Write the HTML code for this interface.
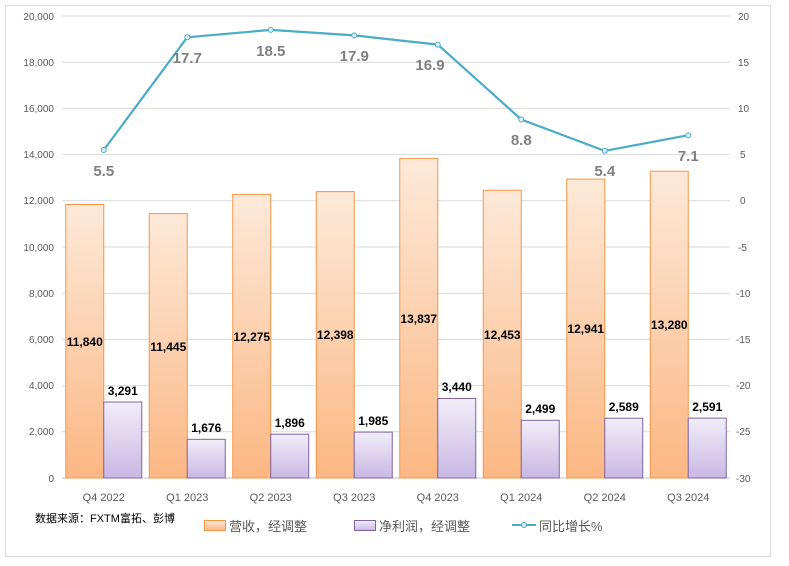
<!DOCTYPE html><html><head><meta charset="utf-8"><style>body{margin:0;background:#fff}svg{display:block}</style></head><body>
<svg width="789" height="566" xmlns="http://www.w3.org/2000/svg" font-family="Liberation Sans, Noto Sans CJK SC, sans-serif">
<defs>
<linearGradient id="go" x1="0" y1="0" x2="0" y2="1"><stop offset="0" stop-color="#fde9d9"/><stop offset="1" stop-color="#fbb783"/></linearGradient>
<linearGradient id="gp" x1="0" y1="0" x2="0" y2="1"><stop offset="0" stop-color="#f1edf8"/><stop offset="1" stop-color="#c9b8e4"/></linearGradient>
</defs>
<rect x="5.5" y="5.5" width="765" height="551" fill="#fff" stroke="#d9d9d9"/>
<g stroke="#d9d9d9" stroke-width="1">
<line x1="62" x2="730" y1="16" y2="16"/><line x1="62" x2="730" y1="62.2" y2="62.2"/><line x1="62" x2="730" y1="108.4" y2="108.4"/><line x1="62" x2="730" y1="154.6" y2="154.6"/><line x1="62" x2="730" y1="200.8" y2="200.8"/><line x1="62" x2="730" y1="247" y2="247"/><line x1="62" x2="730" y1="293.2" y2="293.2"/><line x1="62" x2="730" y1="339.4" y2="339.4"/><line x1="62" x2="730" y1="385.6" y2="385.6"/><line x1="62" x2="730" y1="431.8" y2="431.8"/><line x1="62" x2="730" y1="478" y2="478" stroke="#bfbfbf"/>
</g>
<g font-size="10" fill="#595959" text-anchor="end">
<text x="54" y="20">20,000</text><text x="54" y="66">18,000</text><text x="54" y="112">16,000</text><text x="54" y="158">14,000</text><text x="54" y="204">12,000</text><text x="54" y="251">10,000</text><text x="54" y="297">8,000</text><text x="54" y="343">6,000</text><text x="54" y="389">4,000</text><text x="54" y="435">2,000</text><text x="54" y="482">0</text>
</g>
<g font-size="10" fill="#595959" text-anchor="start">
<text x="738" y="20">20</text><text x="738" y="112">10</text><text x="738" y="66">15</text><text x="740" y="158">5</text><text x="740" y="204">0</text><text x="738" y="251">-5</text><text x="736" y="297">-10</text><text x="736" y="343">-15</text><text x="736" y="389">-20</text><text x="736" y="435">-25</text><text x="736" y="482">-30</text>
</g>
<g stroke="#f79646" stroke-width="1" fill="url(#go)">
<rect x="65.75" y="204.5" width="38" height="273.5"/><rect x="149.25" y="213.6" width="38" height="264.4"/><rect x="232.75" y="194.4" width="38" height="283.6"/><rect x="316.25" y="191.6" width="38" height="286.4"/><rect x="399.75" y="158.4" width="38" height="319.6"/><rect x="483.25" y="190.3" width="38" height="287.7"/><rect x="566.75" y="179.1" width="38" height="298.9"/><rect x="650.25" y="171.2" width="38" height="306.8"/>
</g>
<g stroke="#8064a2" stroke-width="1" fill="url(#gp)">
<rect x="103.75" y="402" width="38" height="76"/><rect x="187.25" y="439.3" width="38" height="38.7"/><rect x="270.75" y="434.2" width="38" height="43.8"/><rect x="354.25" y="432.1" width="38" height="45.9"/><rect x="437.75" y="398.5" width="38" height="79.5"/><rect x="521.25" y="420.3" width="38" height="57.7"/><rect x="604.75" y="418.2" width="38" height="59.8"/><rect x="688.25" y="418.1" width="38" height="59.9"/>
</g>
<g font-size="12" font-weight="bold" fill="#000" text-anchor="middle">
<text x="84.75" y="346">11,840</text><text x="168.25" y="351">11,445</text><text x="251.75" y="341">12,275</text><text x="335.25" y="339">12,398</text><text x="418.75" y="323">13,837</text><text x="502.25" y="339">12,453</text><text x="585.75" y="333">12,941</text><text x="669.25" y="329">13,280</text>
<text x="122.75" y="395">3,291</text><text x="206.25" y="432">1,676</text><text x="289.75" y="427">1,896</text><text x="373.25" y="425">1,985</text><text x="456.75" y="391">3,440</text><text x="540.25" y="413">2,499</text><text x="623.75" y="411">2,589</text><text x="707.25" y="411">2,591</text>
</g>
<polyline points="103.75,150 187.25,37.3 270.75,29.9 354.25,35.4 437.75,44.6 521.25,119.5 604.75,150.9 688.25,135.2" fill="none" stroke="#4bacc6" stroke-width="2.2"/>
<g fill="#dbeef4" stroke="#4bacc6" stroke-width="1">
<circle cx="103.75" cy="150" r="2.5"/><circle cx="187.25" cy="37.3" r="2.5"/><circle cx="270.75" cy="29.9" r="2.5"/><circle cx="354.25" cy="35.4" r="2.5"/><circle cx="437.75" cy="44.6" r="2.5"/><circle cx="521.25" cy="119.5" r="2.5"/><circle cx="604.75" cy="150.9" r="2.5"/><circle cx="688.25" cy="135.2" r="2.5"/>
</g>
<g font-size="15" font-weight="bold" fill="#7f7f7f" text-anchor="middle">
<text x="103.75" y="176">5.5</text><text x="187.25" y="63">17.7</text><text x="270.75" y="56">18.5</text><text x="354.25" y="61">17.9</text><text x="430" y="70">16.9</text><text x="521.25" y="145">8.8</text><text x="604.75" y="176">5.4</text><text x="688.25" y="161">7.1</text>
</g>
<g font-size="11" fill="#595959" text-anchor="middle">
<text x="103.75" y="501">Q4 2022</text><text x="187.25" y="501">Q1 2023</text><text x="270.75" y="501">Q2 2023</text><text x="354.25" y="501">Q3 2023</text><text x="437.75" y="501">Q4 2023</text><text x="521.25" y="501">Q1 2024</text><text x="604.75" y="501">Q2 2024</text><text x="688.25" y="501">Q3 2024</text>
</g>
<text x="35" y="522" font-size="11" fill="#000">数据来源：FXTM富拓、彭博</text>
<rect x="204.5" y="520.5" width="21" height="10" fill="url(#go)" stroke="#f79646"/>
<text x="229" y="531" font-size="13" fill="#595959">营收，经调整</text>
<rect x="354.5" y="520.5" width="21" height="10" fill="url(#gp)" stroke="#8064a2"/>
<text x="379" y="531" font-size="13" fill="#595959">净利润，经调整</text>
<line x1="512" x2="536" y1="525" y2="525" stroke="#4bacc6" stroke-width="2"/>
<circle cx="524" cy="525" r="2.5" fill="#dbeef4" stroke="#4bacc6"/>
<text x="539" y="531" font-size="13" fill="#595959">同比增长%</text>
</svg>
</body></html>
